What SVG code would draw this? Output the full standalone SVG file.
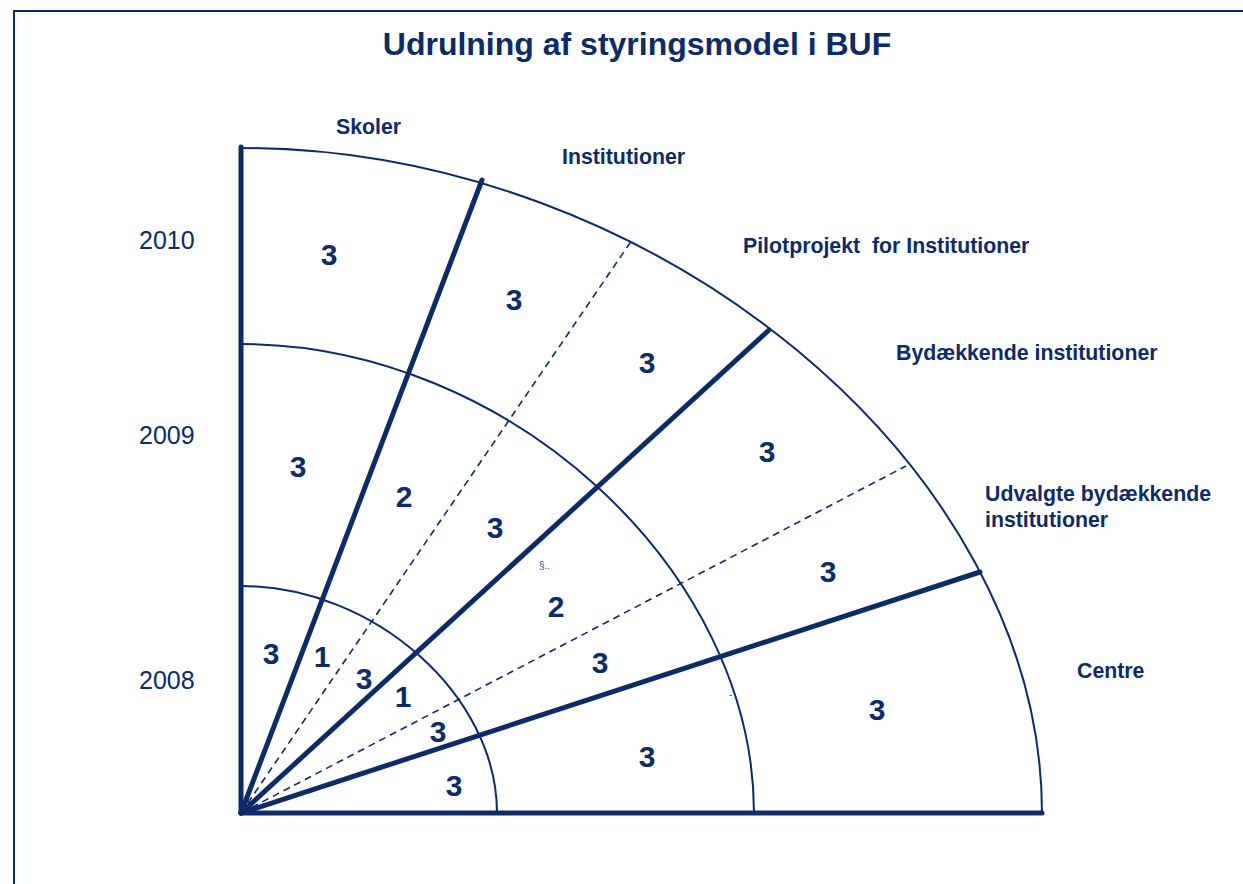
<svg xmlns="http://www.w3.org/2000/svg" width="1243" height="884" viewBox="0 0 1243 884">
<style>
  .frame{fill:none;stroke:#0b2b6b;stroke-width:2}
  .arc{fill:none;stroke:#0b2b6b;stroke-width:2}
  .thick{fill:none;stroke:#0b2b6b;stroke-width:5;stroke-linecap:round}
  .dash{fill:none;stroke:#0b2b6b;stroke-width:1.6;stroke-dasharray:7 5}
  text{font-family:"Liberation Sans",Arial,sans-serif;fill:#0b2b6b}
  .title{font-size:32px;font-weight:bold}
  .lbl{font-size:21.3px;font-weight:bold}
  .yr{font-size:25px}
  .num{font-size:30px;font-weight:bold;text-anchor:middle}
  .tiny{font-size:10px;fill:#3a4c8a}
</style>
<rect width="1243" height="884" fill="#ffffff"/>
<rect class="frame" x="14" y="11" width="1300" height="920"/>
<text class="title" x="637" y="55" text-anchor="middle">Udrulning af styringsmodel i BUF</text>

<g id="connectors">
  <path class="arc" d="M241,148 C657.5,148 1042,467.2 1042,813"/>
  <path class="arc" d="M241,344 C507.8,344 754,569.1 754,813"/>
  <path class="arc" d="M241,586 C374.1,586 497,695 497,813"/>
  <line class="dash" x1="241" y1="813" x2="632" y2="240"/>
  <line class="dash" x1="241" y1="813" x2="906" y2="466"/>
  <line class="thick" x1="241" y1="147" x2="241" y2="813"/>
  <line class="thick" x1="241" y1="813" x2="1042" y2="813"/>
  <line class="thick" x1="241" y1="813" x2="482" y2="180"/>
  <line class="thick" x1="241" y1="813" x2="769" y2="330"/>
  <line class="thick" x1="241" y1="813" x2="980" y2="572"/>
</g>

<g id="labels">
  <text class="lbl" x="336" y="134">Skoler</text>
  <text class="lbl" x="562" y="164">Institutioner</text>
  <text class="lbl" x="743" y="253" xml:space="preserve">Pilotprojekt  for Institutioner</text>
  <text class="lbl" x="896" y="360">Bydækkende institutioner</text>
  <text class="lbl" x="985" y="501">Udvalgte bydækkende</text>
  <text class="lbl" x="985" y="527">institutioner</text>
  <text class="lbl" x="1077" y="678">Centre</text>
</g>

<g id="years">
  <text class="yr" x="139" y="249">2010</text>
  <text class="yr" x="139" y="444">2009</text>
  <text class="yr" x="139" y="689">2008</text>
</g>

<g id="cells">
  <text class="num" x="329" y="265">3</text>
  <text class="num" x="514" y="310">3</text>
  <text class="num" x="647" y="373">3</text>
  <text class="num" x="767" y="462">3</text>
  <text class="num" x="828" y="582">3</text>
  <text class="num" x="877" y="720">3</text>
  <text class="num" x="298" y="477">3</text>
  <text class="num" x="404" y="507">2</text>
  <text class="num" x="495" y="538">3</text>
  <text class="num" x="556" y="617">2</text>
  <text class="num" x="600" y="673">3</text>
  <text class="num" x="647" y="767">3</text>
  <text class="num" x="271" y="664">3</text>
  <text class="num" x="322" y="667">1</text>
  <text class="num" x="364" y="689">3</text>
  <text class="num" x="403" y="707">1</text>
  <text class="num" x="438" y="742">3</text>
  <text class="num" x="454" y="796">3</text>
  <text class="tiny" x="539" y="569">§..</text>
  <text class="tiny" x="729" y="698">-</text>
</g>
</svg>
